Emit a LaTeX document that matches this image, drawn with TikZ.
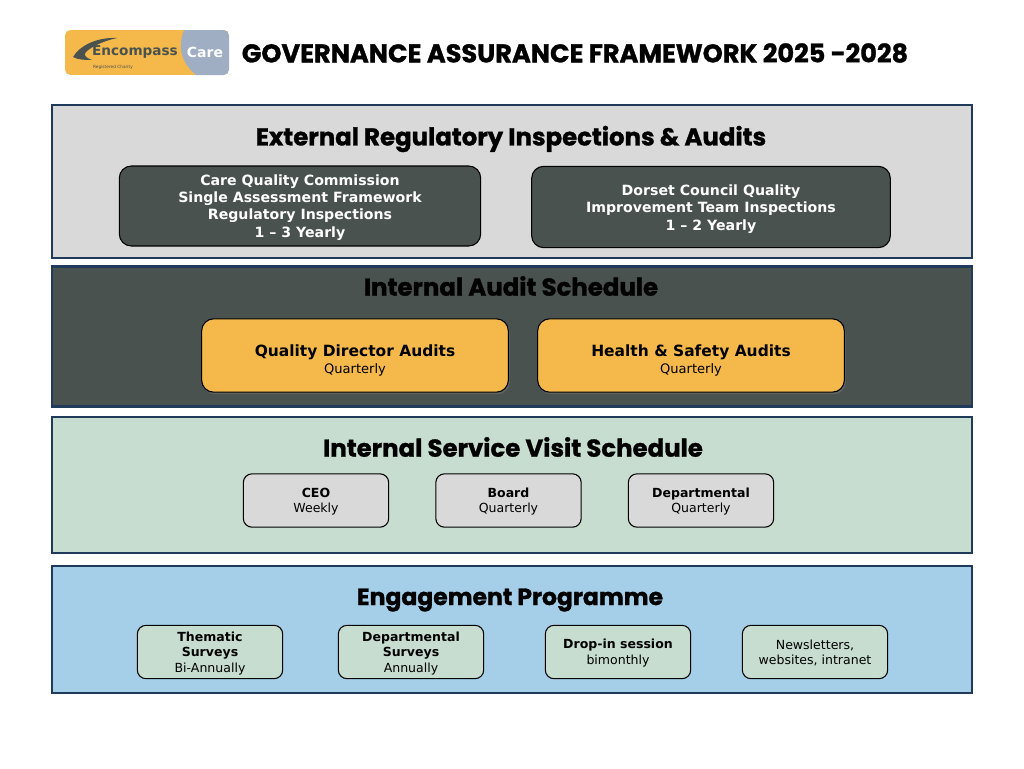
\documentclass[tikz,border=0pt]{standalone}
\usepackage{fontspec}
\setmainfont{DejaVu Sans}
\newfontfamily\headfont{Poppins}[BoldFeatures={FakeBold=1.2}]
\usetikzlibrary{shadows}
\definecolor{framecol}{HTML}{1F3A5A}
\definecolor{greycol}{HTML}{D9D9D9}
\definecolor{darkcol}{HTML}{4A5250}
\definecolor{orangecol}{HTML}{F4B94A}
\definecolor{greencol}{HTML}{C7DDD0}
\definecolor{bluecol}{HTML}{A5CEE9}
\definecolor{logogrey}{HTML}{9FAEC2}
\tikzset{
  band/.style={draw=framecol, line width=1.6pt, minimum width=690pt, anchor=north west, inner sep=0pt, outer sep=0pt},
  heading/.style={font=\headfont\bfseries\fontsize{18.3}{22}\selectfont, text=black},
  darkbox/.style={draw=black, fill=darkcol, rounded corners=9pt, line width=0.8pt, text=white, align=center,
    font=\bfseries\fontsize{10.6}{12.9}\selectfont},
  ambbox/.style={draw=black, fill=orangecol, rounded corners=9pt, line width=0.8pt, align=center,
    minimum width=230pt, minimum height=55pt, text height=29pt, font=\fontsize{9.8}{12.8}\selectfont,
    drop shadow={opacity=0.4, shadow xshift=1pt, shadow yshift=-1.5pt}},
  smallbox/.style={draw=black, rounded corners=6.5pt, line width=0.8pt, align=center,
    minimum width=109pt, minimum height=40pt, inner sep=0pt, font=\fontsize{9.4}{11.6}\selectfont},
}
\begin{document}
\begin{tikzpicture}[x=0.75pt, y=-0.75pt]
\useasboundingbox (0,0) rectangle (1024,768);

% logo
\begin{scope}
  \clip [rounded corners=4pt] (65,30) rectangle (229,75);
  \fill [orangecol] (65,30) rectangle (229,75);
  \fill [logogrey] (184,30) .. controls (178,45) and (180,62) .. (196,75) -- (229,75) -- (229,30) -- cycle;
\end{scope}
\fill [darkcol] (117,38) .. controls (98,37) and (80,45) .. (73,57) .. controls (78,60) and (86,60) .. (92,60)
  .. controls (86,58) and (83,55) .. (86,52) .. controls (92,46) and (104,41) .. (117,38) -- cycle;
\node [font=\fontsize{10.2}{12}\selectfont\bfseries, text=darkcol] (logoname) at (135,52) {Encompass};
\node [font=\fontsize{10.5}{12}\selectfont\bfseries, text=white] (logocare) at (205,52) {Care};
\node [font=\fontsize{3.2}{4}\selectfont, text=darkcol] (logoline) at (113,67) {Registered Charity};

% title
\node [font=\headfont\bfseries\fontsize{19.2}{22}\selectfont] (title) at (575,53) {GOVERNANCE ASSURANCE FRAMEWORK 2025 -2028};

% bands
\node [band, fill=greycol, minimum height=114.5pt] (external) at (52,105) {};
\node [band, fill=darkcol, minimum height=105pt] (internal) at (52,266.5) {};
\node [band, fill=greencol, minimum height=102pt] (visit) at (52,417) {};
\node [band, fill=bluecol, minimum height=95pt] (engage) at (52,566) {};

\node [heading] (external-title) at (511,139) {External Regulatory Inspections \& Audits};
\node [heading] (internal-title) at (511,286) {Internal Audit Schedule};
\node [heading] (visit-title) at (513,447) {Internal Service Visit Schedule};
\node [heading, font=\headfont\bfseries\fontsize{17.6}{22}\selectfont] (engage-title) at (510,600) {Engagement Programme};

% external boxes
\node [darkbox, minimum width=271pt, minimum height=60pt, text height=49pt] (cqc) at (300,206) {Care Quality Commission\\Single Assessment Framework\\Regulatory Inspections\\1 – 3 Yearly};
\node [darkbox, minimum width=269pt, minimum height=61pt, text height=37pt] (dorset) at (711,207) {Dorset Council Quality\\Improvement Team Inspections\\1 – 2 Yearly};

% audit boxes
\node [ambbox] (quality) at (355,355.5) {\textbf{\fontsize{11.6}{12.8}\selectfont Quality Director Audits}\\Quarterly};
\node [ambbox] (safety) at (691,355.5) {\textbf{\fontsize{11.6}{12.8}\selectfont Health \& Safety Audits}\\Quarterly};

% visit boxes
\foreach \n/\a/\b [count=\i from 0] in {ceo/CEO/Weekly, board/Board/Quarterly, dept/Departmental/Quarterly}
  \node [smallbox, fill=greycol, text height=20.2pt] (visit-\n) at (316+\i*192.5,500.5) {\textbf{\a}\\\b};

% engagement boxes
\node [smallbox, fill=greencol, text height=32.5pt] (thematic) at (210,652) {\textbf{Thematic}\\\textbf{Surveys}\\Bi-Annually};
\node [smallbox, fill=greencol, text height=32.5pt] (deptsurvey) at (411,652) {\textbf{Departmental}\\\textbf{Surveys}\\Annually};
\node [smallbox, fill=greencol, text height=20.2pt] (dropin) at (618,652) {\textbf{Drop-in session}\\bimonthly};
\node [smallbox, fill=greencol, text height=20.2pt] (news) at (815,652) {Newsletters,\\websites, intranet};

\end{tikzpicture}
\end{document}
